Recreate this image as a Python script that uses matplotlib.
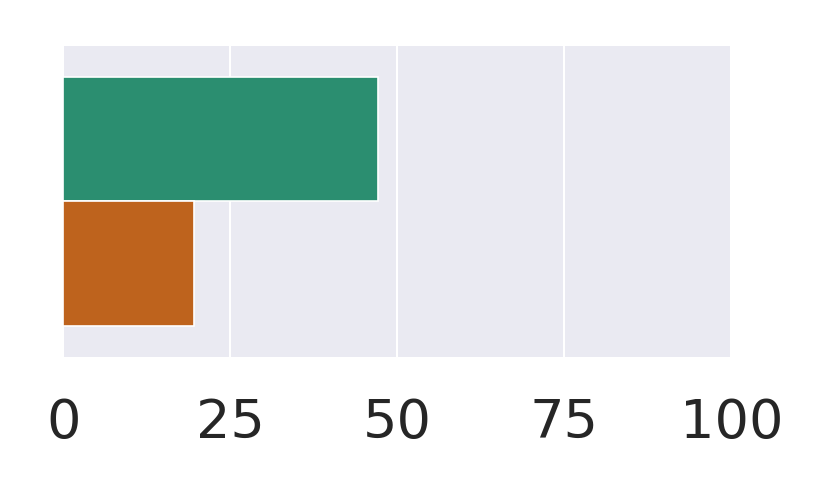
import matplotlib
matplotlib.use("Agg")
import matplotlib.pyplot as plt
import seaborn as sns

# data
groups = ["A", "B"]
values = [47.1, 19.6]
ticks = [0, 25, 50, 75, 100]

sns.set_style("darkgrid")
colors = [sns.desaturate(c, 0.75) for c in sns.color_palette("Dark2", 2)]

fig = plt.figure(figsize=(8.3, 4.98), dpi=100)
ax = fig.add_axes([0.0763, 0.2837, 0.8048, 0.6245])

h = 0.4
for i, (g, v) in enumerate(zip(groups, values)):
    ax.barh(-0.2 + i * h, v, height=h, color=colors[i],
            edgecolor="white", linewidth=1.2)

ax.set_ylim(0.5, -0.5)
ax.set_xlim(0, 100)
ax.set_xticks(ticks)
ax.set_xticklabels([str(t) for t in ticks], fontsize=39, color="#262626")
ax.set_yticks([])
ax.grid(True, color="white", linewidth=1.5)
ax.tick_params(axis="x", length=0, pad=29)
for s in ax.spines.values():
    s.set_visible(False)

fig.savefig("out.png", dpi=100)
